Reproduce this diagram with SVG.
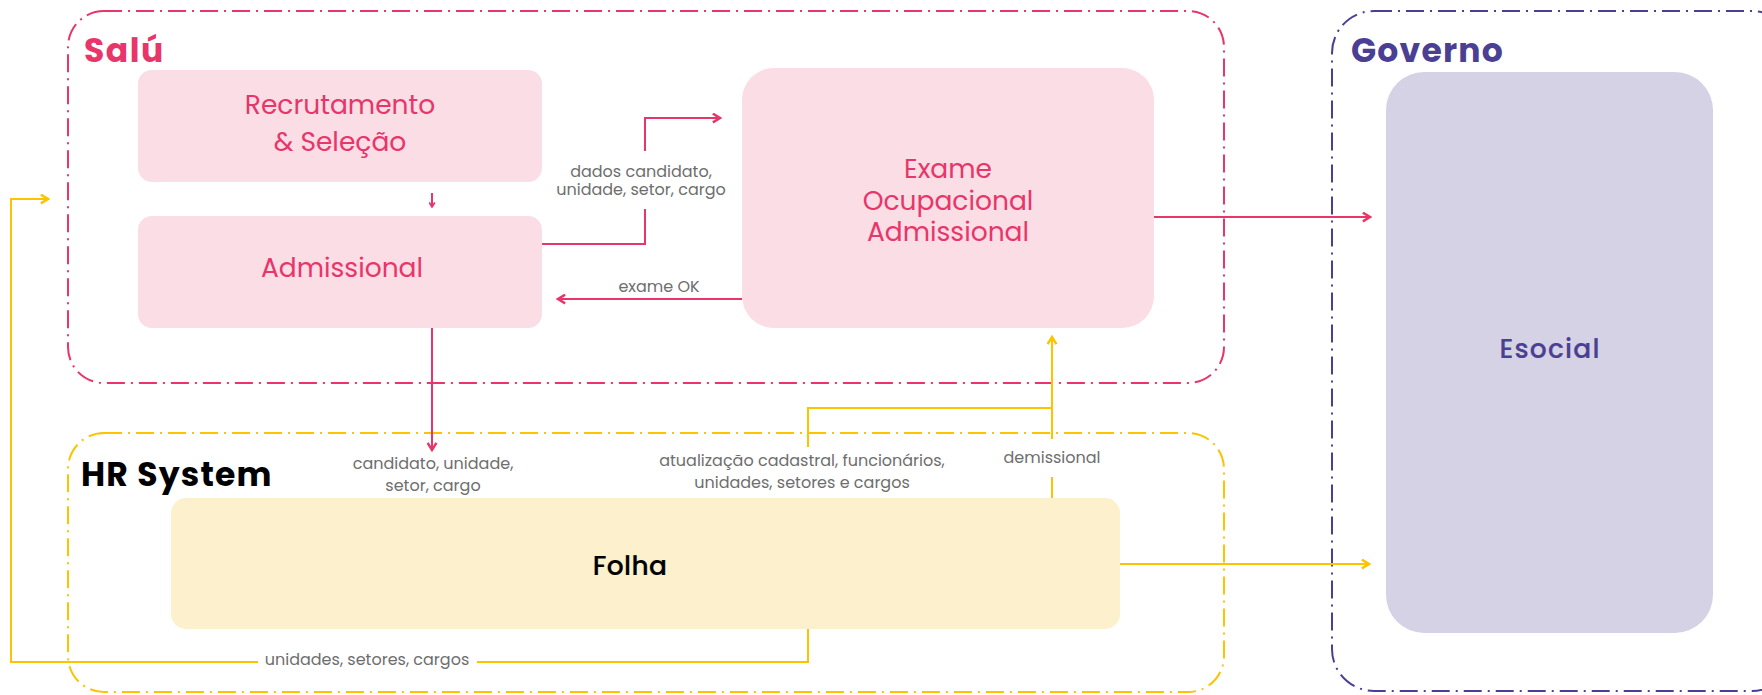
<svg xmlns="http://www.w3.org/2000/svg" width="1762" height="695" viewBox="0 0 1762 695">
  <style>
    .cont { fill: none; stroke-width: 2; stroke-dasharray: 18 6 2 6; }
    .title { font-family: "Poppins", "Inter", "Liberation Sans", sans-serif; font-weight: 700; font-size: 33px; }
    .ntext { font-family: "Poppins", "Inter", "Liberation Sans", sans-serif; font-weight: 400; font-size: 26.5px; text-anchor: middle; }
    .med { font-weight: 500; stroke-width: 0.2px; }
    .lbl { font-family: "Poppins", "Inter", "Liberation Sans", sans-serif; font-weight: 400; font-size: 16px; fill: #6E6E6E; text-anchor: middle; }
    .pk { stroke: #E8356A; stroke-width: 2; fill: none; }
    .yl { stroke: #FDC200; stroke-width: 2; fill: none; }
  </style>
  <defs>
    <marker id="arP" viewBox="0 0 10 10" refX="8.5" refY="5" markerWidth="11" markerHeight="11" markerUnits="userSpaceOnUse" orient="auto">
      <path d="M2,1 L8.5,5 L2,9" fill="none" stroke="#E8356A" stroke-width="2.2"/>
    </marker>
    <marker id="arPs" viewBox="0 0 10 10" refX="8.5" refY="5" markerWidth="7" markerHeight="7" markerUnits="userSpaceOnUse" orient="auto">
      <path d="M2,1 L8.5,5 L2,9" fill="none" stroke="#E8356A" stroke-width="2.4"/>
    </marker>
    <marker id="arY" viewBox="0 0 10 10" refX="8.5" refY="5" markerWidth="11" markerHeight="11" markerUnits="userSpaceOnUse" orient="auto">
      <path d="M2,1 L8.5,5 L2,9" fill="none" stroke="#FDC200" stroke-width="2.2"/>
    </marker>
  </defs>
  <rect width="1762" height="695" fill="#FFFFFF"/>

  <g id="salu">
    <rect class="cont" x="68" y="11" width="1156" height="372" rx="36" ry="36" stroke="#E8356A"/>
    <text class="title" x="84" y="62" fill="#E8356A" letter-spacing="1.5">Salú</text>
  </g>
  <g id="hrsystem">
    <rect class="cont" x="68" y="433" width="1156" height="259" rx="36" ry="36" stroke="#FDC200"/>
    <text class="title" x="81" y="486" fill="#000000" letter-spacing="1.2">HR System</text>
  </g>
  <g id="governo">
    <rect class="cont" x="1332" y="11" width="462" height="680" rx="42" ry="42" stroke="#4B3F93"/>
    <text class="title" x="1351" y="62" fill="#4B3F93" letter-spacing="1.2">Governo</text>
  </g>

  <g id="connectors">
    <line class="pk" x1="432" y1="193" x2="432" y2="207" marker-end="url(#arPs)"/>
    <path class="pk" d="M542,244 H645 V209"/>
    <path class="pk" d="M645,151 V118 H720" marker-end="url(#arP)"/>
    <path class="pk" d="M742,299 H558" marker-end="url(#arP)"/>
    <path class="pk" d="M1154,217 H1370" marker-end="url(#arP)"/>
    <path class="pk" d="M432,328 V450" marker-end="url(#arP)"/>
    <path class="yl" d="M1120,564 H1369" marker-end="url(#arY)"/>
    <path class="yl" d="M808,629 V662 H477"/>
    <path class="yl" d="M258,662 H11 V199 H48" marker-end="url(#arY)"/>
    <path class="yl" d="M1052,498 V477"/>
    <path class="yl" d="M1052,439 V337" marker-end="url(#arY)"/>
    <path class="yl" d="M808,447 V408 H1052"/>
    <text class="lbl"><tspan x="641" y="177">dados candidato,</tspan><tspan x="641" y="195">unidade, setor, cargo</tspan></text>
    <text class="lbl" x="659" y="292">exame OK</text>
    <text class="lbl"><tspan x="433" y="469">candidato, unidade,</tspan><tspan x="433" y="491">setor, cargo</tspan></text>
    <text class="lbl"><tspan x="802" y="466">atualização cadastral, funcionários,</tspan><tspan x="802" y="488">unidades, setores e cargos</tspan></text>
    <text class="lbl" x="1052" y="463">demissional</text>
    <text class="lbl" x="367" y="665">unidades, setores, cargos</text>
  </g>

  <g id="recrutamento">
    <rect x="138" y="70" width="404" height="112" rx="14" fill="#FBDDE5"/>
    <text class="ntext" fill="#E8356A"><tspan x="340" y="114">Recrutamento</tspan><tspan x="340" y="151">&amp; Seleção</tspan></text>
  </g>
  <g id="admissional">
    <rect x="138" y="216" width="404" height="112" rx="14" fill="#FBDDE5"/>
    <text class="ntext" x="342" y="277" fill="#E8356A">Admissional</text>
  </g>
  <g id="exame">
    <rect x="742" y="68" width="412" height="260" rx="32" fill="#FBDDE5"/>
    <text class="ntext" fill="#E8356A"><tspan x="948" y="178">Exame</tspan><tspan x="948" y="210">Ocupacional</tspan><tspan x="948" y="241">Admissional</tspan></text>
  </g>
  <g id="folha">
    <rect x="171" y="498" width="949" height="131" rx="15" fill="#FDF0CC"/>
    <text class="ntext med" x="630" y="575" fill="#000000" stroke="#000000" font-size="26" letter-spacing="0.4">Folha</text>
  </g>
  <g id="esocial">
    <rect x="1386" y="72" width="327" height="561" rx="38" fill="#D6D2E6"/>
    <text class="ntext med" x="1550" y="358" fill="#4B3F93" stroke="#4B3F93" font-size="33" letter-spacing="1.2">Esocial</text>
  </g>
</svg>
